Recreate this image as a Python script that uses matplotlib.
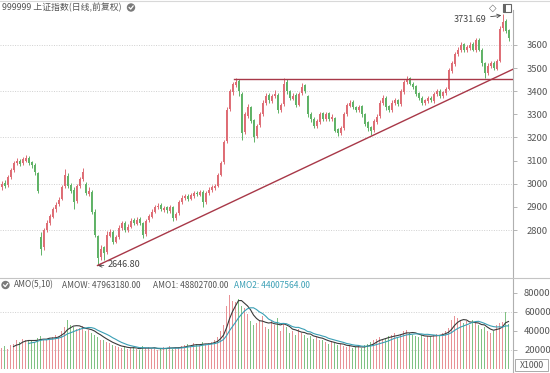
import matplotlib
matplotlib.use('Agg')
import matplotlib.pyplot as plt
from matplotlib.patches import Rectangle, Circle
import numpy as np

plt.rcParams['font.family'] = ['Noto Sans CJK SC', 'DejaVu Sans']

# daily candles (one per trading day)
opens = [
    2985, 3005, 2995, 3030, 3060, 3088, 3100, 3088, 3100, 3112,
    3092, 3082, 3045, 2770, 2725, 2800, 2830, 2858, 2890, 2912,
    2935, 2990, 3035, 2995, 2975, 2925, 2990, 3020, 3000, 2955,
    2965, 2880, 2775, 2685, 2725, 2705, 2775, 2790, 2750, 2770,
    2808, 2830, 2800, 2815, 2842, 2828, 2848, 2830, 2782, 2842,
    2858, 2880, 2898, 2908, 2888, 2898, 2882, 2900, 2850, 2872,
    2920, 2938, 2948, 2935, 2948, 2962, 2952, 2965, 2922, 2958,
    2972, 2982, 2992, 3040, 3092, 3185, 3325, 3395, 3425, 3445,
    3390, 3225, 3295, 3330, 3275, 3205, 3255, 3300, 3350, 3385,
    3358, 3378, 3385, 3318, 3345, 3440, 3400, 3368, 3385, 3342,
    3392, 3425, 3380, 3300, 3282, 3250, 3268, 3305, 3278, 3305,
    3278, 3285, 3235, 3218, 3240, 3300, 3338, 3355, 3332, 3318,
    3335, 3300, 3265, 3245, 3232, 3268, 3292, 3348, 3372, 3335,
    3318, 3348, 3362, 3345, 3398, 3438, 3455, 3432, 3422, 3392,
    3372, 3348, 3358, 3372, 3358, 3388, 3402, 3378, 3392, 3410,
    3488, 3518, 3562, 3578, 3602, 3578, 3588, 3605, 3578, 3622,
    3578, 3522, 3478, 3508, 3522, 3498, 3532, 3672, 3705, 3665,
]
closes = [
    3000, 2990, 3030, 3060, 3090, 3100, 3085, 3105, 3110, 3090,
    3080, 3050, 2970, 2720, 2800, 2830, 2860, 2890, 2910, 2930,
    2985, 3040, 2990, 2970, 2920, 2990, 3020, 3050, 2960, 2970,
    2880, 2780, 2680, 2720, 2700, 2780, 2790, 2750, 2770, 2810,
    2830, 2800, 2815, 2840, 2830, 2845, 2830, 2780, 2840, 2860,
    2880, 2900, 2905, 2890, 2895, 2885, 2900, 2850, 2870, 2920,
    2940, 2945, 2935, 2950, 2960, 2955, 2965, 2920, 2960, 2975,
    2985, 2990, 3040, 3090, 3180, 3320, 3400, 3430, 3440, 3400,
    3220, 3300, 3330, 3270, 3200, 3250, 3300, 3350, 3380, 3360,
    3380, 3390, 3320, 3340, 3430, 3400, 3370, 3380, 3340, 3390,
    3420, 3400, 3300, 3280, 3250, 3270, 3300, 3280, 3300, 3280,
    3290, 3230, 3220, 3240, 3300, 3340, 3350, 3330, 3320, 3330,
    3300, 3260, 3240, 3230, 3270, 3290, 3350, 3370, 3330, 3320,
    3350, 3360, 3345, 3400, 3440, 3450, 3430, 3420, 3390, 3370,
    3350, 3360, 3370, 3360, 3390, 3400, 3380, 3395, 3410, 3490,
    3520, 3560, 3580, 3600, 3580, 3590, 3600, 3580, 3620, 3580,
    3520, 3480, 3510, 3520, 3500, 3530, 3670, 3700, 3660, 3630,
]
highs = [
    3010, 3015, 3040, 3068, 3098, 3112, 3108, 3115, 3125, 3118,
    3098, 3088, 3050, 2790, 2810, 2842, 2870, 2900, 2922, 2942,
    2995, 3065, 3045, 3005, 2985, 3000, 3030, 3070, 3008, 2985,
    2975, 2890, 2780, 2735, 2732, 2795, 2805, 2798, 2780, 2822,
    2840, 2838, 2825, 2852, 2850, 2855, 2855, 2835, 2848, 2870,
    2890, 2910, 2915, 2915, 2905, 2905, 2908, 2905, 2880, 2928,
    2950, 2955, 2955, 2960, 2968, 2970, 2975, 2972, 2968, 2985,
    2995, 3000, 3048, 3100, 3190, 3330, 3410, 3440, 3455, 3452,
    3395, 3310, 3345, 3338, 3280, 3260, 3310, 3360, 3392, 3392,
    3390, 3405, 3392, 3350, 3455, 3452, 3405, 3392, 3392, 3398,
    3435, 3430, 3385, 3308, 3290, 3280, 3310, 3312, 3308, 3312,
    3300, 3290, 3240, 3250, 3310, 3350, 3362, 3360, 3338, 3340,
    3340, 3305, 3270, 3250, 3280, 3300, 3360, 3385, 3378, 3340,
    3360, 3372, 3368, 3410, 3450, 3465, 3462, 3440, 3425, 3398,
    3378, 3368, 3380, 3378, 3398, 3410, 3408, 3402, 3418, 3500,
    3530, 3570, 3592, 3612, 3610, 3600, 3612, 3612, 3632, 3628,
    3585, 3528, 3520, 3532, 3530, 3540, 3680, 3731.69, 3712, 3670,
]
lows = [
    2975, 2980, 2988, 3022, 3052, 3080, 3075, 3080, 3095, 3082,
    3070, 3040, 2960, 2690, 2712, 2790, 2820, 2850, 2880, 2905,
    2928, 2980, 2980, 2960, 2890, 2918, 2982, 3012, 2950, 2945,
    2870, 2770, 2646.80, 2672, 2670, 2698, 2768, 2740, 2742, 2762,
    2800, 2792, 2792, 2808, 2822, 2820, 2822, 2765, 2775, 2835,
    2850, 2872, 2890, 2882, 2880, 2875, 2875, 2840, 2842, 2865,
    2912, 2930, 2925, 2928, 2940, 2945, 2945, 2900, 2912, 2950,
    2965, 2975, 2985, 3032, 3085, 3175, 3315, 3385, 3418, 3380,
    3190, 3215, 3285, 3262, 3180, 3198, 3245, 3292, 3342, 3350,
    3350, 3370, 3305, 3310, 3338, 3390, 3360, 3360, 3330, 3335,
    3385, 3392, 3290, 3268, 3240, 3242, 3260, 3270, 3270, 3270,
    3270, 3222, 3205, 3210, 3232, 3292, 3330, 3325, 3310, 3310,
    3290, 3250, 3230, 3210, 3225, 3260, 3285, 3340, 3320, 3310,
    3310, 3340, 3335, 3338, 3390, 3430, 3425, 3410, 3380, 3360,
    3340, 3340, 3350, 3352, 3350, 3380, 3372, 3370, 3385, 3405,
    3480, 3510, 3552, 3570, 3570, 3570, 3580, 3572, 3570, 3572,
    3510, 3455, 3470, 3500, 3490, 3490, 3525, 3660, 3650, 3615,
]
# turnover, x1000
volumes = [
    22000, 24000, 21000, 25000, 26000, 30000, 28000, 32000, 31000, 29000,
    30000, 28000, 33000, 35000, 31000, 30000, 33000, 34000, 36000, 35000,
    40000, 44000, 52000, 46000, 44000, 42000, 43000, 45000, 40000, 41000,
    38000, 36000, 34000, 31000, 30000, 28000, 27000, 25000, 24000, 23000,
    22000, 24000, 21000, 22000, 23000, 21000, 20000, 24000, 22000, 23000,
    21000, 22000, 20000, 21000, 23000, 22000, 24000, 21000, 22000, 23000,
    24000, 25000, 26000, 24000, 27000, 26000, 25000, 28000, 26000, 27000,
    28000, 30000, 34000, 40000, 46000, 66000, 78000, 72000, 70000, 74000,
    66000, 64000, 58000, 50000, 46000, 48000, 52000, 56000, 44000, 42000,
    50000, 46000, 54000, 40000, 48000, 44000, 38000, 40000, 36000, 42000,
    38000, 36000, 33000, 35000, 32000, 34000, 31000, 30000, 28000, 26000,
    29000, 27000, 25000, 26000, 24000, 23000, 25000, 22000, 23000, 24000,
    22000, 25000, 26000, 28000, 30000, 32000, 34000, 31000, 33000, 35000,
    36000, 38000, 34000, 37000, 40000, 41000, 38000, 36000, 35000, 34000,
    36000, 33000, 35000, 34000, 36000, 37000, 35000, 38000, 40000, 43000,
    52000, 56000, 54000, 50000, 48000, 50000, 46000, 52000, 48000, 46000,
    42000, 44000, 40000, 38000, 40000, 46000, 48000, 49000, 60000, 47000,
]

price_ticks = [2800, 2900, 3000, 3100, 3200, 3300, 3400, 3500, 3600]
price_grid = [2800, 3000, 3200, 3400, 3600]
vol_ticks = [20000, 40000, 60000, 80000]
vol_grid = [20000, 60000]

low_idx, low_val = 32, 2646.80
peak_idx, peak_val = 167, 3731.69
trend_x = [32, 170.5]
trend_y = [2646.80, 3495]
resist_x = [77.5, 170.5]
resist_y = [3453, 3453]

assert len(opens) == len(closes) == len(highs) == len(lows) == len(volumes)

RED = '#de6c74'
GREEN = '#5fb266'
RED_V = '#e89296'
GREEN_V = '#80c283'
TXT = '#555555'

W, H = 550, 373
fig = plt.figure(figsize=(5.5, 3.73), dpi=100)
fig.patch.set_facecolor('white')

def fy(y):
    return 1 - y / H

ax = fig.add_axes([0, fy(277), 513 / W, fy(10) - fy(277)])
axv = fig.add_axes([0, 0, 513 / W, fy(279)])

idx = np.arange(len(closes))
o = np.array(opens)
c = np.array(closes)
up = c >= o
cols = np.where(up, RED, GREEN)

# price panel
for g in price_grid:
    ax.axhline(g, color='#d0d0d0', lw=0.7, ls=(0, (1, 1.5)), zorder=0)
ax.vlines(idx, lows, highs, colors=cols, lw=0.7, zorder=2)
ax.bar(idx, np.maximum(np.abs(c - o), 3), bottom=np.minimum(o, c),
       width=0.62, color=cols, lw=0, zorder=3)
ax.plot(trend_x, trend_y, color='#a83848', lw=1.0, zorder=4)
ax.plot(resist_x, resist_y, color='#a83848', lw=1.0, zorder=4)

ax.annotate('2646.80', xy=(low_idx, low_val), xytext=(35.5, 2649),
            ha='left', va='center', fontsize=6.5, color='#444444',
            arrowprops=dict(arrowstyle='->', color='#444444', lw=0.6,
                            shrinkA=1, shrinkB=0))
ax.annotate('3731.69', xy=(peak_idx - 0.4, peak_val - 4), xytext=(156.2, 3712),
            ha='center', va='center', fontsize=6.5, color='#444444',
            arrowprops=dict(arrowstyle='->', color='#444444', lw=0.6,
                            shrinkA=1, shrinkB=0))

ax.set_xlim(-0.5, 170.5)
ax.set_ylim(2597, 3751)
ax.set_xticks([])
ax.yaxis.tick_right()
ax.set_yticks(price_ticks)
ax.set_yticklabels([str(t) for t in price_ticks])
ax.tick_params(axis='y', length=3, width=0.6, color='#aaaaaa', pad=7,
               labelsize=6.8, labelcolor=TXT)
for s in ['left', 'top', 'bottom']:
    ax.spines[s].set_visible(False)
ax.spines['right'].set_color('#b0b0b0')
ax.spines['right'].set_linewidth(0.8)

# volume panel
for g in vol_grid:
    axv.axhline(g, color='#d0d0d0', lw=0.7, ls=(0, (1, 1.5)), zorder=0)
vcols = np.where(up, RED_V, GREEN_V)
axv.bar(idx, volumes, width=0.62, color=vcols, lw=0, zorder=2)
v = np.array(volumes, dtype=float)
ma5 = np.convolve(v, np.ones(5) / 5, mode='valid')
ma10 = np.convolve(v, np.ones(10) / 10, mode='valid')
axv.plot(idx[4:], ma5, color='#3a3a3a', lw=0.8, zorder=3)
axv.plot(idx[9:], ma10, color='#3a9fb5', lw=0.8, zorder=3)
axv.set_xlim(-0.5, 170.5)
axv.set_ylim(-4200, 94700)
axv.set_xticks([])
axv.yaxis.tick_right()
axv.set_yticks(vol_ticks)
axv.set_yticklabels([str(t) for t in vol_ticks])
axv.tick_params(axis='y', length=3, width=0.6, color='#aaaaaa', pad=5,
                labelsize=6.8, labelcolor=TXT)
for s in ['left', 'top', 'bottom']:
    axv.spines[s].set_visible(False)
axv.spines['right'].set_color('#b0b0b0')
axv.spines['right'].set_linewidth(0.8)

# overlay in pixel units for header texts and icons
ov = fig.add_axes([0, 0, 1, 1], facecolor='none')
ov.set_xlim(0, W)
ov.set_ylim(H, 0)
ov.axis('off')
ov.plot([0, W], [277.5, 277.5], color='#c4c4c4', lw=0.8)
ov.plot([0, W], [0.5, 0.5], color='#d8d8d8', lw=0.8)

ov.text(2, 7.5, '999999 上证指数(日线,前复权)', fontsize=6.4, color=TXT,
        ha='left', va='center')

def icon(x, y):
    ov.add_patch(Circle((x, y), 4.2, color='#7a7a7a', lw=0))
    ov.plot([x - 2, x - 0.3, x + 2.2], [y - 0.2, y + 1.6, y - 1.6],
            color='white', lw=0.9, solid_capstyle='round')

icon(131, 7.5)
icon(5.5, 285)

ov.text(493, 7.5, '◇', fontsize=7, color='#666666', ha='center', va='center',
        family=['DejaVu Sans'])
ov.add_patch(Rectangle((503, 3.5), 8, 8, fill=False, ec='#666666', lw=0.8))
ov.add_patch(Rectangle((503, 3.5), 3, 8, color='#666666', lw=0))

hy = 285
hfs = 6.0
ov.text(14, hy, 'AMO(5,10)', fontsize=hfs, color=TXT, ha='left', va='center')
ov.text(62, hy, 'AMOW: 47963180.00', fontsize=hfs, color=TXT, ha='left', va='center')
ov.text(153, hy, 'AMO1: 48802700.00', fontsize=hfs, color=TXT, ha='left', va='center')
ov.text(234, hy, 'AMO2: 44007564.00', fontsize=hfs, color='#3a9fb5', ha='left', va='center')

ov.add_patch(Rectangle((515, 359), 33, 12, fill=False, ec='#aaaaaa', lw=0.7))
ov.text(531.5, 365.5, 'X1000', fontsize=6.3, color=TXT, ha='center', va='center')

fig.savefig('out.png', dpi=100)
